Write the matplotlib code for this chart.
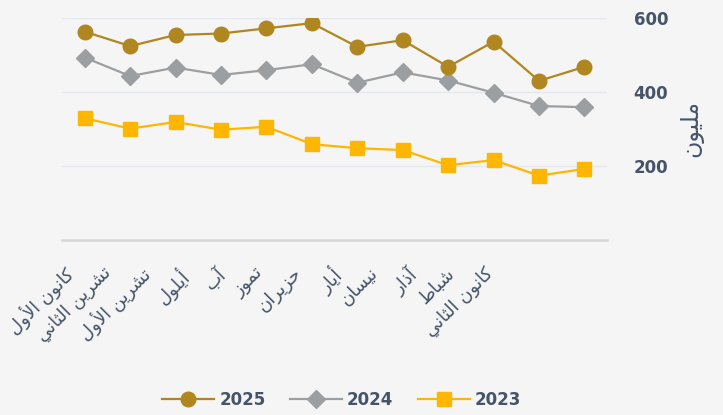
import matplotlib
matplotlib.use('Agg')
import matplotlib.pyplot as plt
import numpy as np

# data
months = ['كانون الأول', 'تشرين الثاني', 'تشرين الأول', 'أيلول', 'آب', 'تموز',
          'حزيران', 'أيار', 'نيسان', 'آذار', 'شباط', 'كانون الثاني']
v2025 = [563, 524, 554, 558, 572, 586, 522, 540, 468, 536, 430, 468]
v2024 = [493, 443, 466, 446, 459, 475, 425, 453, 431, 398, 362, 359]
v2023 = [329, 301, 319, 298, 306, 259, 248, 243, 202, 216, 174, 192]
y_ticks = [200, 400, 600]
y_label = 'مليون'

TEXT = '#46546a'
BG = '#f5f5f5'

# --- minimal arabic shaping (matplotlib has no complex text layout) ---
FORMS = {
    'ا': ('\ufe8d', '\ufe8e'), 'أ': ('\ufe83', '\ufe84'), 'آ': ('\ufe81', '\ufe82'),
    'ذ': ('\ufeab', '\ufeac'), 'ر': ('\ufead', '\ufeae'), 'ز': ('\ufeaf', '\ufeb0'),
    'و': ('\ufeed', '\ufeee'),
    'ب': ('\ufe8f', '\ufe90', '\ufe91', '\ufe92'), 'ت': ('\ufe95', '\ufe96', '\ufe97', '\ufe98'),
    'ث': ('\ufe99', '\ufe9a', '\ufe9b', '\ufe9c'), 'ح': ('\ufea1', '\ufea2', '\ufea3', '\ufea4'),
    'س': ('\ufeb1', '\ufeb2', '\ufeb3', '\ufeb4'), 'ش': ('\ufeb5', '\ufeb6', '\ufeb7', '\ufeb8'),
    'ط': ('\ufec1', '\ufec2', '\ufec3', '\ufec4'), 'ك': ('\ufed9', '\ufeda', '\ufedb', '\ufedc'),
    'ل': ('\ufedd', '\ufede', '\ufedf', '\ufee0'), 'م': ('\ufee1', '\ufee2', '\ufee3', '\ufee4'),
    'ن': ('\ufee5', '\ufee6', '\ufee7', '\ufee8'), 'ي': ('\ufef1', '\ufef2', '\ufef3', '\ufef4'),
}
LAM_ALEF = {'آ': ('\ufef5', '\ufef6'), 'أ': ('\ufef7', '\ufef8'), 'ا': ('\ufefb', '\ufefc')}


def shape(s):
    out = []
    i = 0
    prev_joins = False
    while i < len(s):
        c = s[i]
        if c not in FORMS:
            out.append(c)
            prev_joins = False
            i += 1
            continue
        if c == 'ل' and i + 1 < len(s) and s[i + 1] in LAM_ALEF:
            lig = LAM_ALEF[s[i + 1]]
            out.append(lig[1] if prev_joins else lig[0])
            prev_joins = False
            i += 2
            continue
        f = FORMS[c]
        nxt = s[i + 1] if i + 1 < len(s) else ''
        next_joins = len(f) == 4 and nxt in FORMS
        if prev_joins and next_joins:
            out.append(f[3])
        elif prev_joins:
            out.append(f[1])
        elif next_joins:
            out.append(f[2])
        else:
            out.append(f[0])
        prev_joins = next_joins
        i += 1
    return ''.join(reversed(out))


plt.rcParams['font.family'] = ['DejaVu Sans']

fig = plt.figure(figsize=(7.23, 4.15), dpi=100, facecolor=BG)
ax = fig.add_axes([0.0858, 0.4217, 0.754, 0.535], facecolor=BG)

x = np.arange(len(months))
ax.plot(x, v2023, color='#ffb600', lw=1.6, marker='s', ms=10, mec='#ffb600', label='2023', zorder=3)
ax.plot(x, v2024, color='#9c9fa1', lw=1.6, marker='D', ms=9, mec='#9c9fa1', label='2024', zorder=3)
ax.plot(x, v2025, color='#b08621', lw=1.6, marker='o', ms=10.5, mec='#b08621', label='2025', zorder=3)

ax.set_xlim(-0.5, len(months) - 0.5)
ax.set_ylim(0, 600)

ax.yaxis.tick_right()
ax.yaxis.set_label_position('right')
ax.set_yticks(y_ticks)
ax.set_yticklabels([str(t) for t in y_ticks], fontsize=12, fontweight='bold', color=TEXT)
ax.tick_params(axis='y', length=0, pad=19)
ax.set_ylabel(shape(y_label), fontsize=17, color=TEXT, rotation=90, labelpad=8)
ax.grid(axis='y', color='#e4e8ee', lw=1)
ax.set_axisbelow(True)

# labels in the reference are packed tighter than the points
label_pos = -0.48 + 0.842 * x
ax.set_xticks(label_pos)
ax.set_xticklabels([shape(m) for m in months], rotation=45, ha='right',
                   rotation_mode='anchor', fontsize=13, color=TEXT)
ax.tick_params(axis='x', length=0, pad=17)

for side in ('top', 'left', 'right'):
    ax.spines[side].set_visible(False)
ax.spines['bottom'].set_color('#d6d6d6')
ax.spines['bottom'].set_linewidth(1.8)

handles, labels = ax.get_legend_handles_labels()
leg = fig.legend(handles[::-1], labels[::-1], loc='center', bbox_to_anchor=(0.473, 0.036),
                 ncol=3, frameon=False, handlelength=3.1, handletextpad=0.3,
                 columnspacing=1.5, prop={'size': 12, 'weight': 'bold'})
for t in leg.get_texts():
    t.set_color(TEXT)

fig.savefig('out.png', dpi=100, facecolor=BG)
